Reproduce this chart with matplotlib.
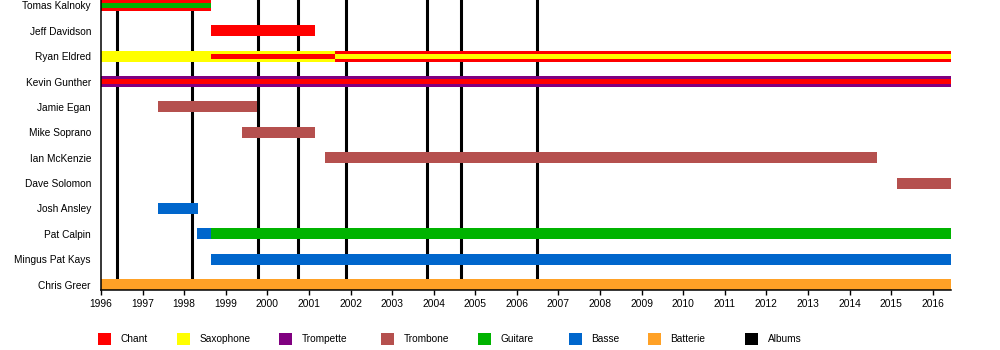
import matplotlib
matplotlib.use("Agg")
import matplotlib.pyplot as plt
from matplotlib.patches import Rectangle

plt.rcParams['font.family'] = ['Liberation Sans', 'DejaVu Sans']

# ---- data ----
members = ["Tomas Kalnoky", "Jeff Davidson", "Ryan Eldred", "Kevin Gunther",
           "Jamie Egan", "Mike Soprano", "Ian McKenzie", "Dave Solomon",
           "Josh Ansley", "Pat Calpin", "Mingus Pat Kays", "Chris Greer"]

instruments = ["Chant", "Saxophone", "Trompette", "Trombone", "Guitare", "Basse", "Batterie", "Albums"]
colors = {"Chant": "#ff0000", "Saxophone": "#ffff00", "Trompette": "#800080",
          "Trombone": "#b5504e", "Guitare": "#00b300", "Basse": "#0066cc",
          "Batterie": "#ffa126", "Albums": "#000000"}

END = 2016.44
# (member, start, end, instrument) -- main (wide) bars
main_bars = [
    ("Tomas Kalnoky", 1996.0, 1998.65, "Chant"),
    ("Jeff Davidson", 1998.65, 2001.15, "Chant"),
    ("Ryan Eldred", 1996.0, 2001.63, "Saxophone"),
    ("Ryan Eldred", 2001.63, END, "Chant"),
    ("Kevin Gunther", 1996.0, END, "Trompette"),
    ("Jamie Egan", 1997.37, 1999.74, "Trombone"),
    ("Mike Soprano", 1999.39, 2001.15, "Trombone"),
    ("Ian McKenzie", 2001.39, 2014.67, "Trombone"),
    ("Dave Solomon", 2015.15, END, "Trombone"),
    ("Josh Ansley", 1997.37, 1998.33, "Basse"),
    ("Pat Calpin", 1998.31, 1998.65, "Basse"),
    ("Pat Calpin", 1998.65, END, "Guitare"),
    ("Mingus Pat Kays", 1998.65, END, "Basse"),
    ("Chris Greer", 1996.0, END, "Batterie"),
]
# secondary (thin) bars
thin_bars = [
    ("Tomas Kalnoky", 1996.0, 1998.65, "Guitare"),
    ("Ryan Eldred", 1998.65, 2001.63, "Chant"),
    ("Ryan Eldred", 2001.63, END, "Saxophone"),
    ("Kevin Gunther", 1996.0, END, "Chant"),
]
albums = [1996.39, 1998.20, 1999.78, 2000.74, 2001.88, 2003.83, 2004.65, 2006.48]
years = list(range(1996, 2017))

# ---- figure ----
W, H = 1000, 350
fig = plt.figure(figsize=(W / 100, H / 100), dpi=100)
ax = fig.add_axes([101 / W, (H - 290) / H, (951 - 101) / W, 290 / H])

BAR_H = 0.433
THIN_H = 0.18
idx = {m: i for i, m in enumerate(members)}

for m, s, e, ins in main_bars:
    ax.barh(idx[m], e - s, left=s, height=BAR_H, color=colors[ins], zorder=3, linewidth=0)
for m, s, e, ins in thin_bars:
    ax.barh(idx[m], e - s, left=s, height=THIN_H, color=colors[ins], zorder=4, linewidth=0)

for a in albums:
    ax.axvline(a, color="black", linewidth=2.2, zorder=2)

ax.set_xlim(1996.0, END)
ax.set_ylim(len(members) - 1 + BAR_H / 2, -BAR_H / 2)
ax.set_yticks(range(len(members)))
ax.set_yticklabels(members, fontsize=7.3)
ax.tick_params(axis='y', length=0, pad=7.2)
ax.set_xticks(years)
ax.set_xticklabels([str(y) for y in years], fontsize=7.4)
ax.tick_params(axis='x', length=3.3, width=1, pad=3.5, direction='out')
for sp in ("top", "right"):
    ax.spines[sp].set_visible(False)
for sp in ("left", "bottom"):
    ax.spines[sp].set_linewidth(1.1)
    ax.spines[sp].set_zorder(5)

# ---- legend ----
leg_x = [98, 177, 279, 381, 478, 569, 648, 745]
for x, ins in zip(leg_x, instruments):
    fig.add_artist(Rectangle((x / W, 5 / H), 12.5 / W, 12.5 / H, transform=fig.transFigure,
                             facecolor=colors[ins], edgecolor='none'))
    fig.text((x + 22.5) / W, 11 / H, ins, fontsize=7.3, va='center', ha='left')

fig.savefig("out.png", dpi=100)
